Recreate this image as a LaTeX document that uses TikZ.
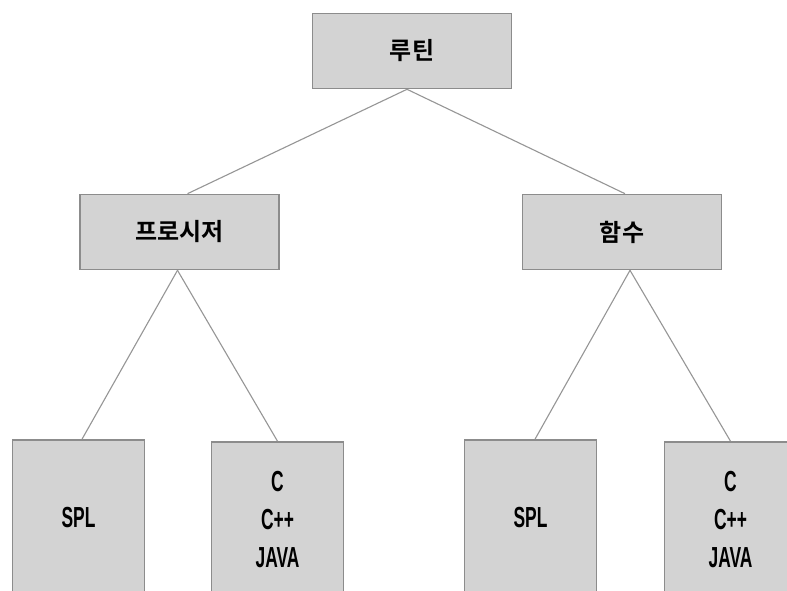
\documentclass[tikz,border=0pt]{standalone}
\usepackage{fontspec}
\usetikzlibrary{calc}
\newfontfamily\krfont{Noto Sans CJK KR}[BoldFont={Noto Sans CJK KR Bold}]
\newfontfamily\latfont{Liberation Sans}
\definecolor{boxfill}{RGB}{211,211,211}
\definecolor{boxline}{RGB}{140,140,140}
\definecolor{linkline}{RGB}{150,150,150}
\newcommand{\lat}[1]{\scalebox{0.6}[1]{\latfont\bfseries #1}}
\tikzset{
  box/.style={draw=boxline, line width=1.6pt, fill=boxfill, inner sep=0pt, anchor=center},
  topbox/.style={box, minimum width=199pt, minimum height=75pt, font=\krfont\bfseries\fontsize{24pt}{28pt}\selectfont},
  leafbox/.style={box, minimum width=132pt, minimum height=156pt, align=center, font=\fontsize{29pt}{38pt}\selectfont},
  link/.style={draw=linkline, line width=1.1pt}
}
\begin{document}
\begin{tikzpicture}[x=1pt,y=-1pt]
\useasboundingbox (0,0) rectangle (787,591);
\clip (0,0) rectangle (787,591);
\fill[white] (0,0) rectangle (787,591);
\node[topbox] (root) at (412,51) {루틴};
\node[topbox] (proc) at (179.5,232) {프로시저};
\node[topbox] (func) at (622,232) {함수};
\node[leafbox] (l1) at (78.5,518) {\lat{SPL}};
\node[leafbox] (l2) at (277.5,520) {\lat{C}\\\lat{C++}\\\lat{JAVA}};
\node[leafbox] (l3) at (530.5,518) {\lat{SPL}};
\node[leafbox] (l4) at (730.5,520) {\lat{C}\\\lat{C++}\\\lat{JAVA}};
\draw[link] ($(root.south)+(-5,0)$) -- ($(proc.north)+(8,0)$);
\draw[link] ($(root.south)+(-5,0)$) -- ($(func.north)+(3,0)$);
\draw[link] ($(proc.south)+(-2,0)$) -- ($(l1.north)+(3.5,0)$);
\draw[link] ($(proc.south)+(-2,0)$) -- (l2.north);
\draw[link] ($(func.south)+(8,0)$) -- ($(l3.north)+(4.5,0)$);
\draw[link] ($(func.south)+(8,0)$) -- (l4.north);
\end{tikzpicture}
\end{document}
